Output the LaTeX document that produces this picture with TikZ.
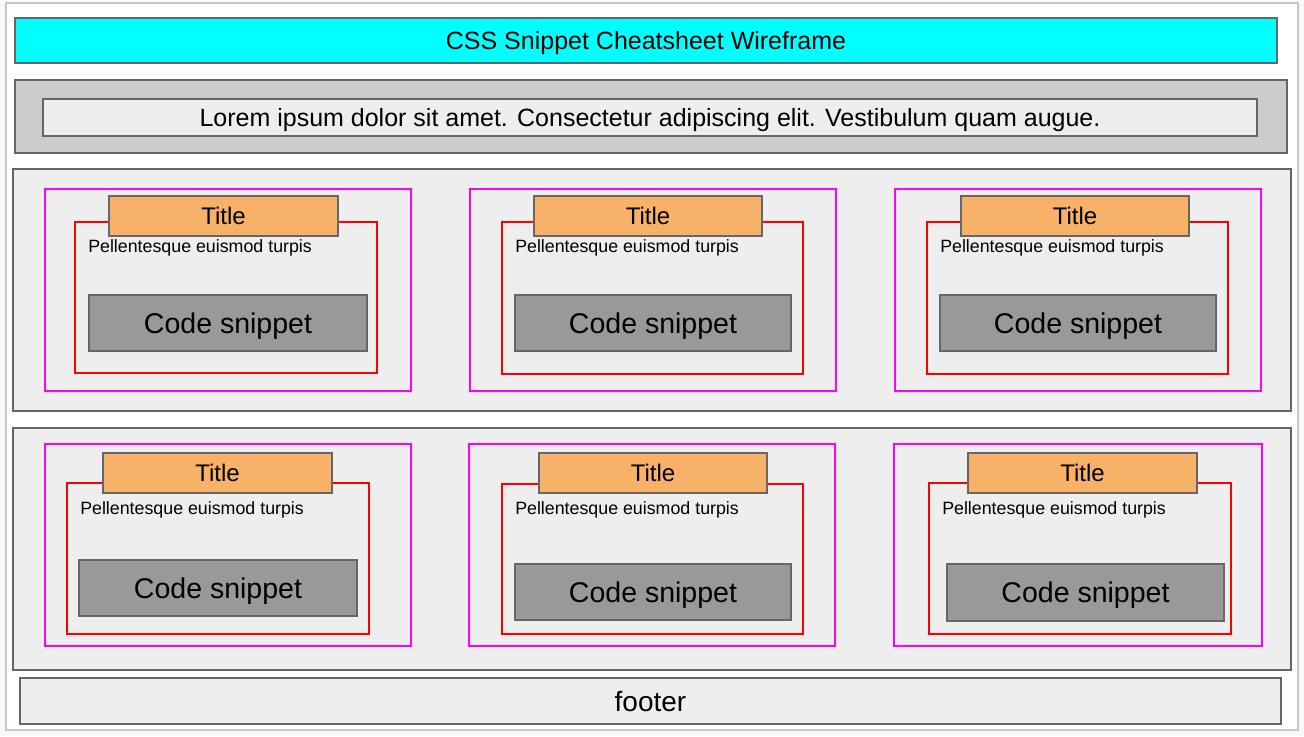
\documentclass[tikz,border=0pt]{standalone}
\usepackage{fontspec}
\setmainfont{Liberation Sans}
\definecolor{pagebg}{HTML}{F8F9FA}
\definecolor{framegray}{HTML}{C8C8C8}
\definecolor{edgegray}{HTML}{666666}
\definecolor{bandgray}{HTML}{CCCCCC}
\definecolor{lightgray}{HTML}{EEEEEE}
\definecolor{codegray}{HTML}{999999}
\definecolor{titleorange}{HTML}{F7B169}
\definecolor{cyanfill}{HTML}{00FFFF}
\definecolor{magentaedge}{HTML}{FF00FF}
\definecolor{rededge}{HTML}{FF0000}
\newcommand\bx[7]{\node[#6,anchor=north west,minimum width={(#4-#2)*0.75pt},minimum height={(#5-#3)*0.75pt}] (#1) at (#2,#3) {#7};}
\tikzset{
  basebox/.style={rectangle,inner sep=0pt,outer sep=0pt,line width=1pt,text depth=0pt},
  headerbox/.style={basebox,draw=edgegray,fill=cyanfill,font=\fontsize{18.75}{22}\selectfont,text height=13.4pt},
  bandbox/.style={basebox,draw=edgegray,fill=bandgray},
  lorembox/.style={basebox,draw=edgegray,fill=lightgray,font=\fontsize{18.75}{22}\selectfont,text height=13.4pt},
  rowbox/.style={basebox,draw=edgegray,fill=lightgray},
  cardbox/.style={basebox,draw=magentaedge},
  innerbox/.style={basebox,draw=rededge},
  titlebox/.style={basebox,draw=edgegray,fill=titleorange,font=\fontsize{18}{21}\selectfont,text height=12.9pt},
  codebox/.style={basebox,draw=edgegray,fill=codegray,font=\fontsize{21.4}{25}\selectfont,text height=15.3pt},
  bodytext/.style={inner sep=0pt,anchor=base west,font=\fontsize{13.35}{16}\selectfont},
  footerbox/.style={basebox,draw=edgegray,fill=lightgray,font=\fontsize{21}{25}\selectfont,text height=15pt},
  framebox/.style={basebox,draw=framegray,fill=white}
}
\begin{document}
\begin{tikzpicture}[x=0.75pt,y=-0.75pt]
\useasboundingbox (0,0) rectangle (1304,736);
\fill[pagebg] (0,0) rectangle (1304,736);
\bx{frame}{6}{3}{1298}{730}{framebox}{}
\bx{header}{15}{18}{1277}{63}{headerbox}{CSS Snippet Cheatsheet Wireframe}
\bx{band}{15}{80}{1287}{153}{bandbox}{}
\bx{lorem}{43}{99}{1257}{136}{lorembox}{Lorem ipsum dolor sit amet. Consectetur adipiscing elit. Vestibulum quam augue.}
\bx{row1}{13}{169}{1291}{411}{rowbox}{}
\bx{row2}{13}{428}{1291}{670}{rowbox}{}
% card 1
\bx{c1}{45}{189}{411}{391}{cardbox}{}
\bx{r1}{75}{222}{377}{373}{innerbox}{}
\bx{t1}{109}{196}{338}{236}{titlebox}{Title}
\node[bodytext] (p1) at (88,252) {Pellentesque euismod turpis};
\bx{s1}{89}{295}{367}{351}{codebox}{Code snippet}
% card 2
\bx{c2}{470}{189}{836}{391}{cardbox}{}
\bx{r2}{502}{222}{803}{374}{innerbox}{}
\bx{t2}{534}{196}{762}{236}{titlebox}{Title}
\node[bodytext] (p2) at (515,252) {Pellentesque euismod turpis};
\bx{s2}{515}{295}{791}{351}{codebox}{Code snippet}
% card 3
\bx{c3}{895}{189}{1261}{391}{cardbox}{}
\bx{r3}{927}{222}{1228}{374}{innerbox}{}
\bx{t3}{961}{196}{1189}{236}{titlebox}{Title}
\node[bodytext] (p3) at (940,252) {Pellentesque euismod turpis};
\bx{s3}{940}{295}{1216}{351}{codebox}{Code snippet}
% card 4
\bx{c4}{45}{444}{411}{646}{cardbox}{}
\bx{r4}{67}{483}{369}{634}{innerbox}{}
\bx{t4}{103}{453}{332}{493}{titlebox}{Title}
\node[bodytext] (p4) at (80,514) {Pellentesque euismod turpis};
\bx{s4}{79}{560}{357}{616}{codebox}{Code snippet}
% card 5
\bx{c5}{469}{444}{835}{646}{cardbox}{}
\bx{r5}{502}{484}{803}{634}{innerbox}{}
\bx{t5}{539}{453}{767}{493}{titlebox}{Title}
\node[bodytext] (p5) at (515,514) {Pellentesque euismod turpis};
\bx{s5}{515}{564}{791}{620}{codebox}{Code snippet}
% card 6
\bx{c6}{894}{444}{1262}{646}{cardbox}{}
\bx{r6}{929}{483}{1231}{634}{innerbox}{}
\bx{t6}{968}{453}{1197}{493}{titlebox}{Title}
\node[bodytext] (p6) at (942,514) {Pellentesque euismod turpis};
\bx{s6}{947}{564}{1224}{621}{codebox}{Code snippet}
% footer
\bx{footer}{20}{678}{1281}{724}{footerbox}{footer}
\end{tikzpicture}
\end{document}
